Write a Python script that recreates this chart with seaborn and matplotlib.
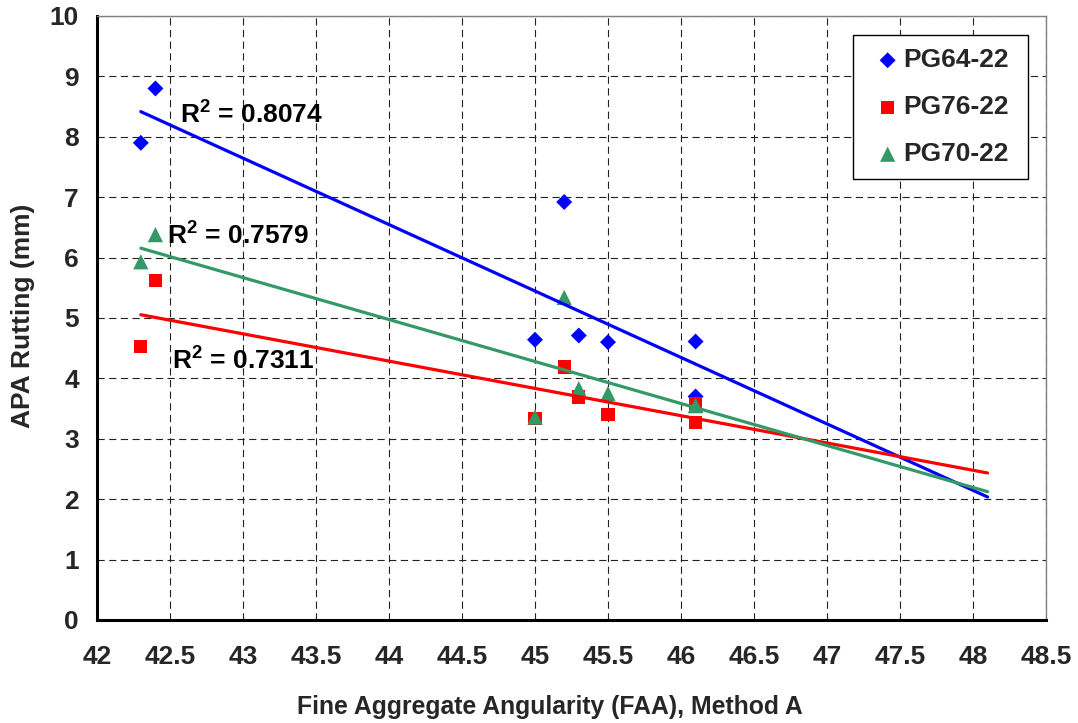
import numpy as np
import pandas as pd
import matplotlib
matplotlib.use("Agg")
import matplotlib.pyplot as plt
from matplotlib.ticker import MultipleLocator
import seaborn as sns

# Fine aggregate angularity of each mix and the APA rut depth per binder grade
faa = [42.3, 42.4, 45.0, 45.2, 45.3, 45.5, 46.1, 46.1]
rut_pg64 = [7.90, 8.80, 4.64, 6.92, 4.71, 4.60, 4.61, 3.70]
rut_pg76 = [4.53, 5.62, 3.34, 4.19, 3.69, 3.40, 3.58, 3.27]
rut_pg70 = [5.93, 6.38, 3.36, 5.34, 3.83, 3.75, 3.55, 3.55]
binders = ["PG64-22", "PG76-22", "PG70-22"]
r2_values = ["0.8074", "0.7311", "0.7579"]
trend_end = 48.1
x_ticks = np.arange(42, 48.51, 0.5)
y_ticks = np.arange(0, 10.1, 1)

df = pd.DataFrame({
    "faa": faa * 3,
    "rut": rut_pg64 + rut_pg76 + rut_pg70,
    "binder": np.repeat(binders, len(faa)),
})

styles = {
    "PG64-22": dict(color="#0000FF", marker="D", s=66),
    "PG76-22": dict(color="#FF0000", marker="s", s=92),
    "PG70-22": dict(color="#339966", marker="^", s=120),
}
label_pos = {
    "PG64-22": (42.565, 8.23),
    "PG76-22": (42.515, 4.17),
    "PG70-22": (42.48, 6.23),
}

sns.set_theme(style="white")
plt.rcParams["font.family"] = ["Liberation Sans", "DejaVu Sans"]
plt.rcParams["font.weight"] = "bold"
plt.rcParams["axes.labelweight"] = "bold"
plt.rcParams["mathtext.fontset"] = "custom"
plt.rcParams["mathtext.bf"] = "Liberation Sans:bold"
plt.rcParams["mathtext.rm"] = "Liberation Sans:bold"

fig = plt.figure(figsize=(10.78, 7.23), dpi=100)
ax = fig.add_axes([0.0900, 0.1425, 0.8803, 0.8354])

handles = []
for name in binders:
    sub = df[df["binder"] == name]
    st = styles[name]
    sns.scatterplot(data=sub, x="faa", y="rut", color=st["color"],
                    marker=st["marker"], s=st["s"], edgecolor="none",
                    linewidth=0, ax=ax, zorder=3, legend=False)
    handles.append(ax.collections[-1])

    # least-squares trend line, projected forward to trend_end
    slope, icpt = np.polyfit(sub["faa"], sub["rut"], 1)
    xs = np.linspace(sub["faa"].min(), trend_end, 60)
    sns.lineplot(x=xs, y=slope * xs + icpt, color=st["color"], linewidth=2.3,
                 ax=ax, zorder=4, legend=False)

for name, val in zip(binders, r2_values):
    tx, ty = label_pos[name]
    ax.text(tx, ty, r"R$^{\mathbf{2}}$ = " + val, fontsize=19,
            fontweight="bold", color="black", va="baseline", ha="left",
            zorder=5)

ax.set_xlim(42, 48.5)
ax.set_ylim(0, 10)
ax.set_xticks(x_ticks)
ax.set_yticks(y_ticks)
ax.set_xticklabels([f"{v:g}" for v in x_ticks])
ax.set_yticklabels([f"{v:g}" for v in y_ticks])
ax.xaxis.set_minor_locator(MultipleLocator(0.1))
ax.yaxis.set_minor_locator(MultipleLocator(0.2))

ax.grid(True, which="major", color="#222222", linewidth=0.8,
        linestyle=(0, (6.5, 4)))
ax.set_axisbelow(True)

ax.tick_params(axis="both", which="major", direction="inout", length=10,
               width=1.0, color="black", labelsize=19)
ax.tick_params(axis="both", which="minor", direction="in", length=5,
               width=1.0, color="black")
ax.tick_params(axis="x", which="major", pad=13)
ax.tick_params(axis="y", which="major", pad=8)
for lbl in ax.get_xticklabels() + ax.get_yticklabels():
    lbl.set_fontweight("bold")

for side in ("left", "bottom"):
    ax.spines[side].set_color("black")
    ax.spines[side].set_linewidth(2.2)
for side in ("top", "right"):
    ax.spines[side].set_color("#808080")
    ax.spines[side].set_linewidth(1.0)

ax.set_xlabel("Fine Aggregate Angularity (FAA), Method A", fontsize=17.8,
              fontweight="bold")
ax.set_ylabel("APA Rutting (mm)", fontsize=19, fontweight="bold")
ax.xaxis.set_label_coords(0.477, -0.124)
ax.yaxis.set_label_coords(-0.065, 0.503)

leg = ax.legend(handles, binders, loc="upper left",
                bbox_to_anchor=(0.797, 0.735, 0.1845, 0.2335), mode="expand",
                frameon=True, fancybox=False,
                edgecolor="black", facecolor="white", framealpha=1,
                prop={"size": 19, "weight": "bold"}, borderpad=0.5,
                labelspacing=0.87, handlelength=1.6, handletextpad=-0.2,
                borderaxespad=0, markerscale=1.0)
leg.get_frame().set_linewidth(1.0)
leg.set_zorder(6)

fig.savefig("out.png", dpi=100)
